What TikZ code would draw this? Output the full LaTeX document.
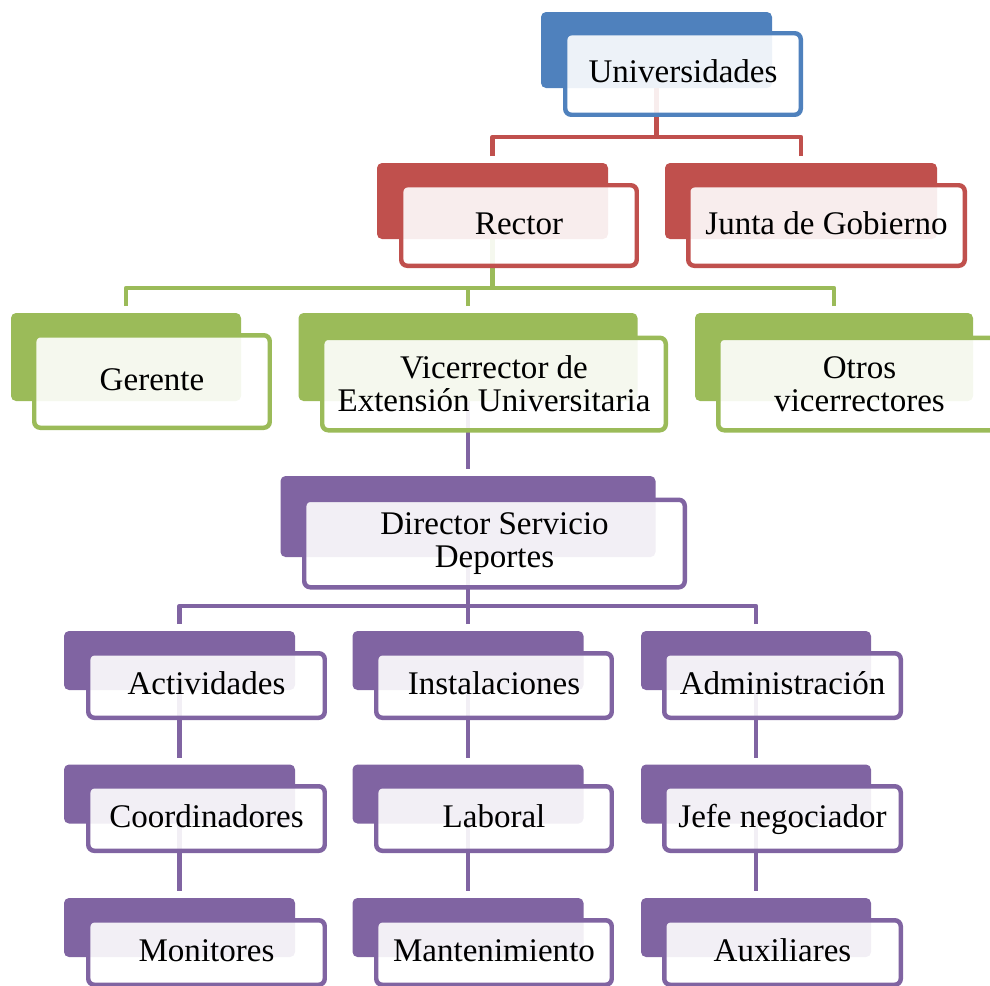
\documentclass[tikz,border=0pt]{standalone}
\usepackage{fontspec}
\setmainfont{Liberation Serif}
\usetikzlibrary{backgrounds}

\definecolor{cBlue}{HTML}{4F81BD}
\definecolor{cRed}{HTML}{C0504D}
\definecolor{cGreen}{HTML}{9BBB59}
\definecolor{cPurple}{HTML}{8064A2}

\begin{document}
\begin{tikzpicture}[x=0.02cm,y=-0.02cm,
  every node/.style={font=\fontsize{18.8}{18.8}\selectfont, inner sep=0pt},
  backbox/.style n args={3}{fill=#1, rounded corners=0.1cm,
    minimum width=#2*0.02cm, minimum height=#3*0.02cm},
  frontbox/.style n args={3}{draw=#1, line width=2.55pt, fill=white,
    fill opacity=0.9, text opacity=1, rounded corners=0.12cm,
    minimum width=(#2-4.5)*0.02cm, minimum height=(#3-4.5)*0.02cm},
  oneline/.style={text height=1.05em, text depth=0.05em},
  twoline/.style={align=center, yshift=-0.05cm},
  con/.style={draw=#1, line width=2.55pt, line join=round},
  drop/.style={shorten <=0.13cm},
]
\clip (0,0) rectangle (990,985);

% level 1
\node[backbox={cBlue}{231}{76}] (uniB) at (656.5,50) {};
\node[frontbox={cBlue}{240}{86}, oneline] (uni) at (683,74) {Universidades};

% level 2
\node[backbox={cRed}{231}{76}] (rectorB) at (492.5,201) {};
\node[frontbox={cRed}{240}{85}, oneline] (rector) at (519,225.5) {Rector};
\node[backbox={cRed}{272}{76}] (juntaB) at (801,201) {};
\node[frontbox={cRed}{281}{85}, oneline] (junta) at (826.5,225.5) {Junta de Gobierno};

% level 3
\node[backbox={cGreen}{230}{88}] (gerB) at (126,357) {};
\node[frontbox={cGreen}{240}{97}, oneline] (ger) at (152,381.5) {Gerente};
\node[backbox={cGreen}{339}{88}] (viceB) at (468,357) {};
\node[frontbox={cGreen}{348}{97}, twoline] (vice) at (494,381.5) {Vicerrector de\\Extensión Universitaria};
\node[backbox={cGreen}{278}{88}] (otrosB) at (834,357) {};
\node[frontbox={cGreen}{287}{97}, twoline] (otros) at (859.5,381.5) {Otros\\vicerrectores};

% level 4
\node[backbox={cPurple}{375}{81}] (dirB) at (468,516.5) {};
\node[frontbox={cPurple}{385}{92}, twoline] (dir) at (494.5,541) {Director Servicio\\Deportes};

% level 5 and below: three columns
\node[backbox={cPurple}{231}{59}] (actB) at (179.5,660.5) {};
\node[frontbox={cPurple}{241}{69}, oneline] (act) at (206.5,685.5) {Actividades};
\node[backbox={cPurple}{231}{59}] (coorB) at (179.5,794) {};
\node[frontbox={cPurple}{241}{69}, oneline] (coor) at (206.5,818.5) {Coordinadores};
\node[backbox={cPurple}{231}{59}] (monB) at (179.5,927.5) {};
\node[frontbox={cPurple}{241}{69}, oneline] (mon) at (206.5,952.5) {Monitores};

\node[backbox={cPurple}{231}{59}] (instB) at (468,660.5) {};
\node[frontbox={cPurple}{240}{69}, oneline] (inst) at (494,685.5) {Instalaciones};
\node[backbox={cPurple}{231}{59}] (labB) at (468,794) {};
\node[frontbox={cPurple}{240}{69}, oneline] (lab) at (494,818.5) {Laboral};
\node[backbox={cPurple}{231}{59}] (mantB) at (468,927.5) {};
\node[frontbox={cPurple}{240}{69}, oneline] (mant) at (494,952.5) {Mantenimiento};

\node[backbox={cPurple}{230}{59}] (admB) at (756,660.5) {};
\node[frontbox={cPurple}{241}{69}, oneline] (adm) at (782.5,685.5) {Administración};
\node[backbox={cPurple}{230}{59}] (jefeB) at (756,794) {};
\node[frontbox={cPurple}{241}{69}, oneline] (jefe) at (782.5,818.5) {Jefe negociador};
\node[backbox={cPurple}{230}{59}] (auxB) at (756,927.5) {};
\node[frontbox={cPurple}{241}{69}, oneline] (aux) at (782.5,952.5) {Auxiliares};

% bus junctions
\coordinate (busA) at (656.5,137);
\coordinate (busB) at (492.5,288);
\coordinate (busC) at (468,606);

\begin{pgfonlayer}{background}
  % Universidades -> level 2
  \draw[con=cRed] (uniB.center) -- (busA);
  \draw[con=cRed, drop] (rectorB.north) |- (busA);
  \draw[con=cRed, drop] (juntaB.north) |- (busA);
  % Rector -> level 3
  \draw[con=cGreen] (rectorB.center) -- (busB);
  \draw[con=cGreen, drop] (gerB.north) |- (busB);
  \draw[con=cGreen, drop] (viceB.north) |- (busB);
  \draw[con=cGreen, drop] (otrosB.north) |- (busB);
  % Vicerrector -> Director
  \draw[con=cPurple, shorten >=0.13cm] (viceB.center) -- (dirB.north);
  % Director -> departments
  \draw[con=cPurple] (dirB.center) -- (busC);
  \draw[con=cPurple, drop] (actB.north) |- (busC);
  \draw[con=cPurple, drop] (instB.north) |- (busC);
  \draw[con=cPurple, drop] (admB.north) |- (busC);
  % column chains
  \draw[con=cPurple, shorten >=0.13cm] (actB.center) -- (coorB.north);
  \draw[con=cPurple, shorten >=0.13cm] (coorB.center) -- (monB.north);
  \draw[con=cPurple, shorten >=0.13cm] (instB.center) -- (labB.north);
  \draw[con=cPurple, shorten >=0.13cm] (labB.center) -- (mantB.north);
  \draw[con=cPurple, shorten >=0.13cm] (admB.center) -- (jefeB.north);
  \draw[con=cPurple, shorten >=0.13cm] (jefeB.center) -- (auxB.north);
\end{pgfonlayer}
\end{tikzpicture}
\end{document}
